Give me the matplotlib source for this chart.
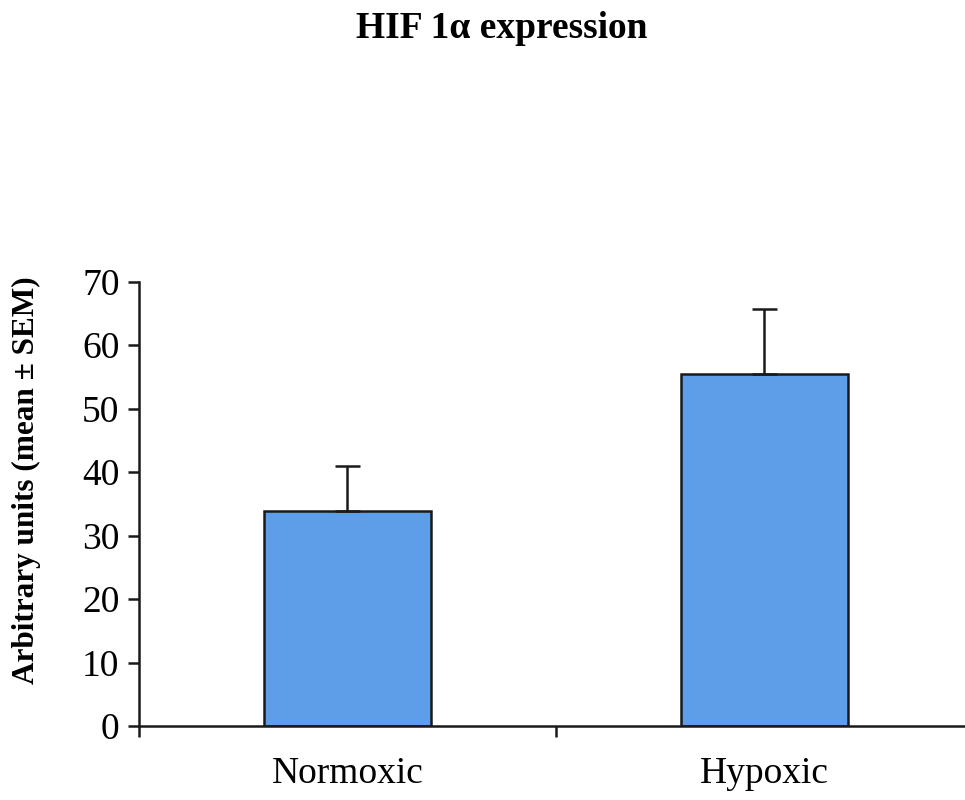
import matplotlib.pyplot as plt

conditions = ['Normoxic', 'Hypoxic']
means = [33.9, 55.5]
sems = [7.0, 10.1]
yticks = [0, 10, 20, 30, 40, 50, 60, 70]

plt.rcParams['font.family'] = ['Liberation Serif', 'DejaVu Serif']

fig = plt.figure(figsize=(9.65, 8), dpi=100)
ax = fig.add_axes([0.144, 0.0925, 0.864, 0.5556])

positions = [0.5, 1.5]
ax.bar(positions, means, width=0.4, color='#5e9ee9', edgecolor='#1a1a1a',
       linewidth=1.8, zorder=2)
ax.errorbar(positions, means, yerr=[[0, 0], sems], fmt='none', ecolor='#1a1a1a',
            elinewidth=1.8, capsize=9, capthick=1.8, zorder=3)

ax.set_xlim(0, 2)
ax.set_ylim(0, 70)
ax.set_yticks(yticks)
ax.set_yticklabels([str(v) for v in yticks], fontsize=27)
ax.set_xticks([0, 1, 2])
ax.set_xticklabels(['', '', ''])
for pos, name in zip(positions, conditions):
    ax.text(pos, -7.5, name, ha='center', va='center', fontsize=27,
            transform=ax.transData)

for side in ['top', 'right']:
    ax.spines[side].set_visible(False)
for side in ['left', 'bottom']:
    ax.spines[side].set_linewidth(1.8)
    ax.spines[side].set_color('#1a1a1a')
ax.tick_params(axis='both', direction='out', length=8, width=1.8, color='#1a1a1a', pad=6)

fig.text(0.027, 0.4, 'Arbitrary units (mean \u00b1 SEM)', rotation=90,
         ha='center', va='center', fontsize=22.5, fontweight='bold')
fig.text(0.52, 0.964, 'HIF 1\u03b1 expression', ha='center', va='center',
         fontsize=27, fontweight='bold')

fig.savefig('out.png', dpi=100)
